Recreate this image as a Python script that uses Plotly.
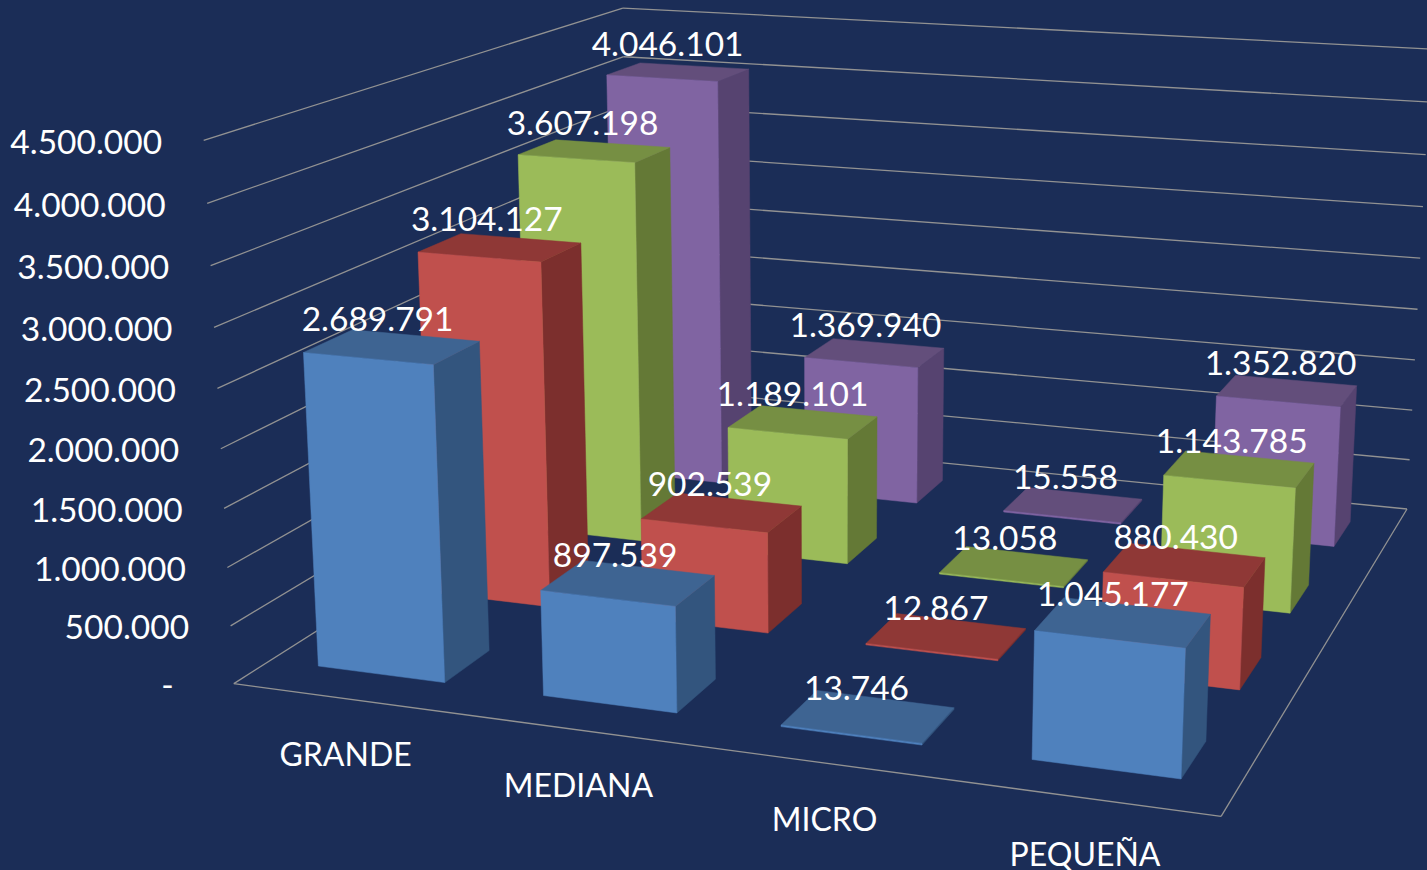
import numpy as np
import plotly.graph_objects as go

categories = ["GRANDE", "MEDIANA", "MICRO", "PEQUEÑA"]
blue = [2689791, 897539, 13746, 1045177]
red = [3104127, 902539, 12867, 880430]
green = [3607198, 1189101, 13058, 1143785]
purple = [4046101, 1369940, 15558, 1352820]
tick_values = [0, 500000, 1000000, 1500000, 2000000, 2500000, 3000000, 3500000, 4000000, 4500000]

W, H = 1427, 870
BG = "#1B2D57"
AXMAX = 4500000
rows = [
    (blue, "#4F81BD", "#33557E", "#3E6492"),
    (red, "#C0504D", "#7C2F2D", "#8F3836"),
    (green, "#9BBB59", "#647936", "#768F43"),
    (purple, "#8064A2", "#564370", "#634E7B"),
]
BAR_W, BAR_D = 0.568, 0.405

# Camera calibration: world box corner -> pixel, solved as a pinhole projection
anchors = [
    ((0, 0, 0), (233, 683)), ((1, 0, 0), (1222, 815)), ((1, 1, 0), (1407, 510)), ((0, 1, 0), (632, 431)),
    ((0, 0, 1), (205, 141)), ((0, 1, 1), (622, 8)), ((1, 1, 1), (1432, 48)),
    ((0, 0, 1/9), (230, 626)), ((0, 0, 2/9), (227, 568)), ((0, 0, 3/9), (224, 508)), ((0, 0, 4/9), (221, 449)),
    ((0, 0, 5/9), (217, 389)), ((1, 1, 1/9), (1410, 460)), ((1, 1, 2/9), (1412, 411)),
    ((1, 1, 3/9), (1414, 360)), ((1, 1, 4/9), (1417, 309)), ((1, 1, 5/9), (1420, 258)),
]
M, b = [], []
for (x, y, z), (u, v) in anchors:
    M.append([x, y, z, 1, 0, 0, 0, 0, -u*x, -u*y, -u*z]); b.append(u)
    M.append([0, 0, 0, 0, x, y, z, 1, -v*x, -v*y, -v*z]); b.append(v)
P = np.append(np.linalg.lstsq(np.array(M, float), np.array(b, float), rcond=None)[0], 1).reshape(3, 4)

def project(x, y, z):
    q = P @ np.array([x, y, z, 1.0])
    return q[0] / q[2], q[1] / q[2]

def fmt(v):
    return f"{v:,}".replace(",", ".")

fig = go.Figure()

# gridlines
gx, gy = [], []
for t in tick_values:
    z = t / AXMAX
    for a, c in [((0, 0), (0, 1)), ((0, 1), (1, 1))]:
        p, q = project(*a, z), project(*c, z)
        gx += [p[0], q[0], None]; gy += [p[1], q[1], None]
for a, c in [((0, 0), (1, 0)), ((1, 0), (1, 1))]:
    p, q = project(*a, 0), project(*c, 0)
    gx += [p[0], q[0], None]; gy += [p[1], q[1], None]
fig.add_trace(go.Scatter(x=gx, y=gy, mode="lines", line=dict(color="#929292", width=1.3), hoverinfo="skip", showlegend=False))

def face(pts, color):
    pix = [project(*p) for p in pts]
    fig.add_trace(go.Scatter(x=[p[0] for p in pix] + [pix[0][0]], y=[p[1] for p in pix] + [pix[0][1]],
                             mode="lines", fill="toself", fillcolor=color, line=dict(color=color, width=0.5),
                             hoverinfo="skip", showlegend=False))

lx, ly, lt = [], [], []
ncat, nser = len(categories), len(rows)
for s in range(nser - 1, -1, -1):
    vals, cf, cs, ct = rows[s]
    for c in range(ncat):
        z = vals[c] / AXMAX
        x0 = (c + 0.5 - BAR_W / 2) / ncat; x1 = (c + 0.5 + BAR_W / 2) / ncat
        y0 = (s + 0.5 - BAR_D / 2) / nser; y1 = (s + 0.5 + BAR_D / 2) / nser
        face([(x1, y0, 0), (x1, y1, 0), (x1, y1, z), (x1, y0, z)], cs)
        face([(x0, y0, z), (x1, y0, z), (x1, y1, z), (x0, y1, z)], ct)
        face([(x0, y0, 0), (x1, y0, 0), (x1, y0, z), (x0, y0, z)], cf)
        cx, cy = project((x0 + x1) / 2, (y0 + y1) / 2, z)
        lx.append(cx - 14.5 + 1.3 * s + 1.4 * c); ly.append(cy - 24.5); lt.append(fmt(vals[c]))

FONT = "Lato"
FS = 33.5
fig.add_trace(go.Scatter(x=lx, y=ly, text=lt, mode="text", textposition="middle center", cliponaxis=False,
                         textfont=dict(family=FONT, size=FS, color="white"), hoverinfo="skip", showlegend=False))

# value-axis labels
tx, ty, tt = [], [], []
for t in tick_values:
    px, py = project(0, 0, t / AXMAX)
    tx.append(px - (60 if t == 0 else 41.5)); ty.append(py + 5); tt.append(fmt(t) if t else "-")
fig.add_trace(go.Scatter(x=tx, y=ty, text=tt, mode="text", textposition="middle left", cliponaxis=False,
                         textfont=dict(family=FONT, size=FS, color="white"), hoverinfo="skip", showlegend=False))

# category labels
cpx, cpy = [], []
for c in range(ncat):
    px, py = project((c + 0.5) / ncat, 0, 0)
    cpx.append(px); cpy.append(py + 59.5)
fig.add_trace(go.Scatter(x=cpx, y=cpy, text=categories, mode="text", textposition="middle center", cliponaxis=False,
                         textfont=dict(family=FONT, size=32, color="white"), hoverinfo="skip", showlegend=False))

fig.update_layout(width=W, height=H, margin=dict(l=0, r=0, t=0, b=0), paper_bgcolor=BG, plot_bgcolor=BG,
                  xaxis=dict(range=[0, W], visible=False, fixedrange=True),
                  yaxis=dict(range=[H, 0], visible=False, fixedrange=True), showlegend=False)
fig.write_html("out.html", config={"displayModeBar": False},
               post_script="document.body.style.margin='0';document.body.style.background='" + BG + "';")
